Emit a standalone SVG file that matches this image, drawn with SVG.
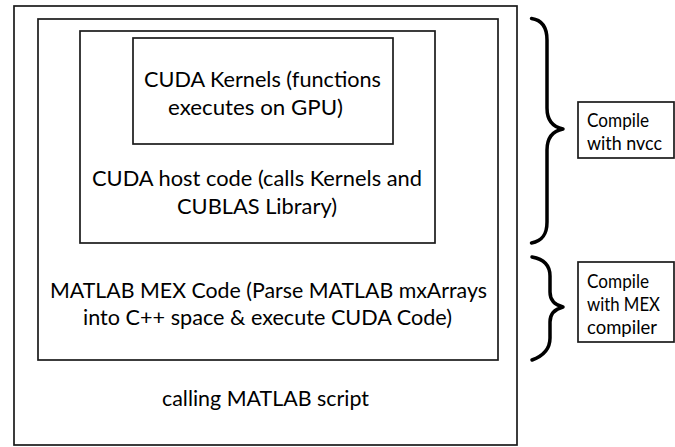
<svg xmlns="http://www.w3.org/2000/svg" width="675" height="447" viewBox="0 0 675 447">
<style>
.box{fill:none;stroke:#1a1a1a;stroke-width:1.7}
.t{font-family:Lato,"Open Sans","Liberation Sans",sans-serif;font-size:21px;fill:#000}
.s{font-family:Lato,"Open Sans","Liberation Sans",sans-serif;font-size:18.5px;fill:#000}
.brace{fill:none;stroke:#000;stroke-width:3.5;stroke-linecap:round;stroke-linejoin:round}
</style>
<rect width="675" height="447" fill="#fff"/>
<g id="matlab-script">
<rect class="box" x="14" y="6" width="503" height="439"/>
<text class="t" x="162" y="406" textLength="207" lengthAdjust="spacingAndGlyphs">calling MATLAB script</text>
</g>
<g id="mex-code">
<rect class="box" x="38" y="19" width="460" height="341"/>
<text class="t" x="50" y="298" textLength="437" lengthAdjust="spacingAndGlyphs">MATLAB MEX Code (Parse MATLAB mxArrays</text>
<text class="t" x="83" y="325" textLength="369" lengthAdjust="spacingAndGlyphs">into C++ space &amp; execute CUDA Code)</text>
</g>
<g id="cuda-host">
<rect class="box" x="80" y="31" width="355" height="212"/>
<text class="t" x="92" y="186" textLength="330" lengthAdjust="spacingAndGlyphs">CUDA host code (calls Kernels and</text>
<text class="t" x="177" y="214" textLength="160" lengthAdjust="spacingAndGlyphs">CUBLAS Library)</text>
</g>
<g id="cuda-kernels">
<rect class="box" x="133" y="38" width="260" height="106"/>
<text class="t" x="144" y="87" textLength="237" lengthAdjust="spacingAndGlyphs">CUDA Kernels (functions</text>
<text class="t" x="168" y="115" textLength="175" lengthAdjust="spacingAndGlyphs">executes on GPU)</text>
</g>
<g id="connectors">
<path class="brace" d="M531.5,18.5 C542,20 547,27 547,40 L547,108 C547,121 553,127 563,129 C553,131 547,137 547,150 L547,222 C547,235 542,241 531.5,243"/>
<path class="brace" d="M532,257 C543,259 550,265 550,276 L550,292 C550,300 555,305 563,307 C555,309 550,314 550,322 L550,338 C550,349 543,356 532,360"/>
</g>
<g id="nvcc">
<rect class="box" x="578" y="102" width="96" height="56"/>
<text class="s" x="587" y="127" textLength="62" lengthAdjust="spacingAndGlyphs">Compile</text>
<text class="s" x="587" y="150" textLength="75" lengthAdjust="spacingAndGlyphs">with nvcc</text>
</g>
<g id="mex-compiler">
<rect class="box" x="578" y="262" width="96" height="80"/>
<text class="s" x="587" y="288" textLength="62" lengthAdjust="spacingAndGlyphs">Compile</text>
<text class="s" x="587" y="311" textLength="73" lengthAdjust="spacingAndGlyphs">with MEX</text>
<text class="s" x="587" y="334" textLength="70" lengthAdjust="spacingAndGlyphs">compiler</text>
</g>
</svg>
